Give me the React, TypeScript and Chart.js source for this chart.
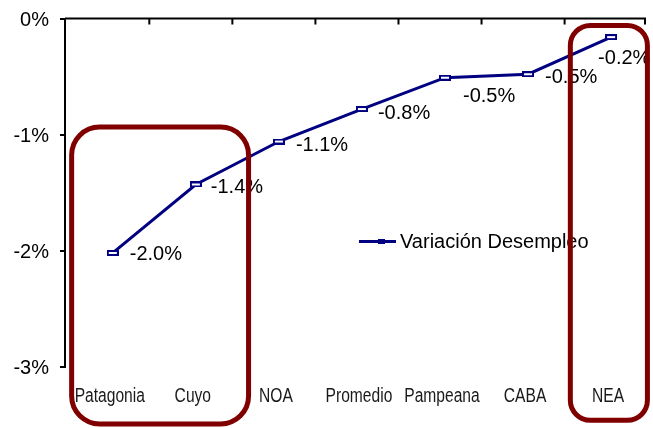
import React, { useEffect, useRef } from "react";
import { Chart, registerables } from "chart.js";

Chart.register(...registerables);

// ---- data ----
const categories = ["Patagonia", "Cuyo", "NOA", "Promedio", "Pampeana", "CABA", "NEA"];
const values = [-2.02, -1.43, -1.06, -0.78, -0.51, -0.48, -0.16];
const seriesLabel = "Variación Desempleo";
const yTickValues = [-3, -2, -1, 0];

// highlight frames (data space: x in category index units, y in % units)
const highlightFrames = [
  { from: -0.495, to: 1.635, top: -0.935, bottom: -3.493, radius: 28 },
  { from: 5.509, to: 6.437, top: -0.06, bottom: -3.462, radius: 20 },
];

// data label placement (dx to label's left edge, dy to its middle), styling only
const labelOffsets = [
  [17, 2],
  [15, 3],
  [17, 4],
  [16, 4],
  [18, 19],
  [17, 3],
  [-13, 21],
];

const NAVY = "#000080";
const FRAME = "#800000";
const SANS = '"Liberation Sans", Arial, sans-serif';

function roundRectPath(ctx: CanvasRenderingContext2D, x: number, y: number, w: number, h: number, r: number) {
  ctx.beginPath();
  ctx.moveTo(x + r, y);
  ctx.lineTo(x + w - r, y);
  ctx.arcTo(x + w, y, x + w, y + r, r);
  ctx.lineTo(x + w, y + h - r);
  ctx.arcTo(x + w, y + h, x + w - r, y + h, r);
  ctx.lineTo(x + r, y + h);
  ctx.arcTo(x, y + h, x, y + h - r, r);
  ctx.lineTo(x, y + r);
  ctx.arcTo(x, y, x + r, y, r);
  ctx.closePath();
}

const overlayPlugin = {
  id: "overlay",
  afterDraw(chart: any) {
    const { ctx, chartArea } = chart;
    const xs = chart.scales.x;
    const ys = chart.scales.y;
    ctx.save();

    // top category axis line with inward boundary ticks
    const y0 = ys.getPixelForValue(0);
    ctx.strokeStyle = "#000";
    ctx.lineWidth = 2;
    ctx.beginPath();
    ctx.moveTo(chartArea.left, y0);
    ctx.lineTo(chartArea.right, y0);
    categories.forEach((_, i) => {
      const px = Math.min(xs.getPixelForValue(i + 0.44), chartArea.right - 1);
      ctx.moveTo(px, y0);
      ctx.lineTo(px, y0 + 6);
    });
    ctx.stroke();

    // category labels (condensed look)
    ctx.fillStyle = "#1a1a1a";
    ctx.textAlign = "center";
    ctx.textBaseline = "middle";
    ctx.font = `20px ${SANS}`;
    categories.forEach((c, i) => {
      const px = xs.getPixelForValue(i) - 3;
      ctx.save();
      ctx.translate(px, chartArea.bottom + 29.5);
      ctx.scale(0.78, 1);
      ctx.fillText(c, 0, 0);
      ctx.restore();
    });

    // data labels
    ctx.font = `20px ${SANS}`;
    ctx.fillStyle = "#000";
    ctx.textAlign = "left";
    ctx.textBaseline = "middle";
    const meta = chart.getDatasetMeta(0);
    meta.data.forEach((pt: any, i: number) => {
      const [dx, dy] = labelOffsets[i];
      ctx.fillText(values[i].toFixed(1) + "%", pt.x + dx, pt.y + dy);
    });

    // legend (inside plot)
    const lx = chartArea.left + 294;
    const ly = chartArea.top + 223;
    ctx.strokeStyle = NAVY;
    ctx.lineWidth = 3;
    ctx.beginPath();
    ctx.moveTo(lx, ly);
    ctx.lineTo(lx + 37, ly);
    ctx.stroke();
    ctx.fillStyle = NAVY;
    ctx.fillRect(lx + 19, ly - 2.5, 7, 5);
    ctx.fillStyle = "#000";
    ctx.fillText(seriesLabel, lx + 41, ly + 1);

    // highlight frames
    ctx.strokeStyle = FRAME;
    ctx.lineWidth = 5;
    highlightFrames.forEach((f) => {
      const l = xs.getPixelForValue(f.from);
      const r = xs.getPixelForValue(f.to);
      const t = ys.getPixelForValue(f.top);
      const b = ys.getPixelForValue(f.bottom);
      roundRectPath(ctx, l, t, r - l, b - t, f.radius);
      ctx.stroke();
    });

    ctx.restore();
  },
};

export default function App() {
  const canvasRef = useRef<HTMLCanvasElement | null>(null);

  useEffect(() => {
    const canvas = canvasRef.current;
    if (!canvas) return;

    const marker = document.createElement("canvas");
    marker.width = 12;
    marker.height = 6;
    const mc = marker.getContext("2d")!;
    mc.fillStyle = NAVY;
    mc.fillRect(0, 0, 12, 6);
    mc.fillStyle = "#fff";
    mc.fillRect(2, 2, 8, 2);

    const chart = new Chart(canvas, {
      type: "line",
      data: {
        datasets: [
          {
            label: seriesLabel,
            data: categories.map((_, i) => ({ x: i, y: values[i] })),
            borderColor: NAVY,
            backgroundColor: NAVY,
            borderWidth: 3,
            tension: 0,
            pointStyle: marker as any,
            pointRadius: 4,
            fill: false,
          },
        ],
      },
      options: {
        responsive: false,
        animation: false,
        layout: { padding: { top: 18.5, right: 4, left: 0, bottom: 0 } },
        plugins: {
          legend: { display: false },
          tooltip: { enabled: false },
        },
        scales: {
          x: {
            type: "linear",
            position: "bottom",
            min: -0.575,
            max: 6.42,
            grid: { display: false, drawTicks: false },
            border: { display: false },
            afterBuildTicks: (scale: any) => {
              scale.ticks = categories.map((_, i) => ({ value: i }));
            },
            afterFit: (scale: any) => {
              scale.height = 61.3;
              scale.paddingLeft = 0;
              scale.paddingRight = 0;
            },
            ticks: { display: false },
          },
          y: {
            min: -3,
            max: 0,
            grid: {
              display: true,
              drawOnChartArea: false,
              drawTicks: true,
              tickLength: 5,
              color: "#000",
              lineWidth: 2,
            },
            border: { display: true, color: "#000", width: 2 },
            afterBuildTicks: (scale: any) => {
              scale.ticks = yTickValues.map((v) => ({ value: v }));
            },
            afterFit: (scale: any) => {
              scale.width = 65;
              scale.paddingTop = 0;
              scale.paddingBottom = 0;
            },
            ticks: {
              padding: 11,
              labelOffset: 2,
              color: "#000",
              font: { family: SANS, size: 20 },
              callback: (v: any) => `${v}%`,
            },
          },
        },
      },
      plugins: [overlayPlugin],
    });

    return () => chart.destroy();
  }, []);

  return (
    <div style={{ position: "fixed", left: 0, top: 0, width: 653, height: 428, background: "#fff" }}>
      <canvas ref={canvasRef} width={653} height={428} style={{ display: "block" }} />
    </div>
  );
}
